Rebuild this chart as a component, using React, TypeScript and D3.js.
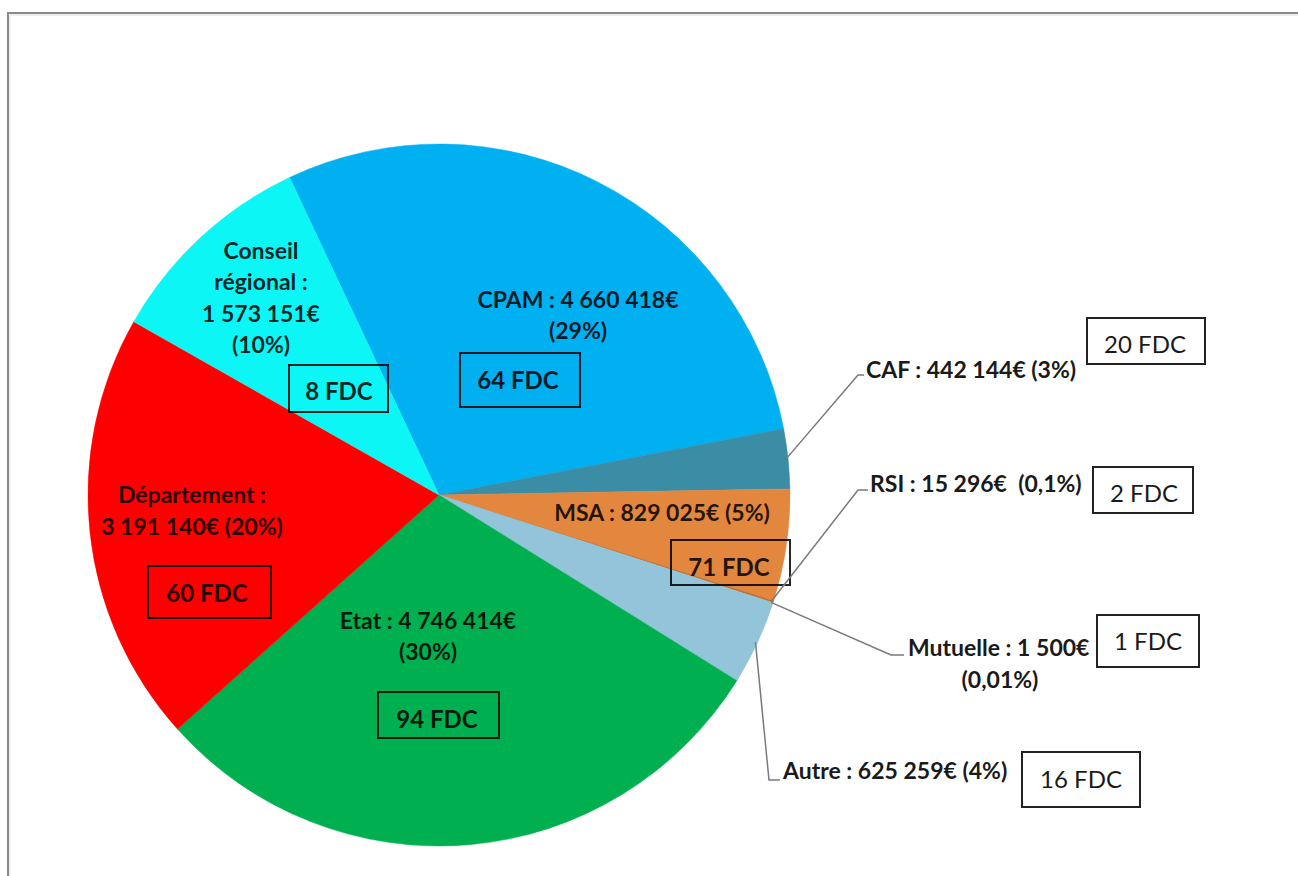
import React from "react";
import * as d3 from "d3";

// ---- Data ----
const categories = ["CPAM", "CAF", "MSA", "RSI", "Mutuelle", "Autre", "Etat", "Département", "Conseil régional"];
const amounts = [4660418, 442144, 829025, 15296, 1500, 625259, 4746414, 3191140, 1573151];
const percentLabels = ["29%", "3%", "5%", "0,1%", "0,01%", "4%", "30%", "20%", "10%"];
const fdcCounts = [64, 20, 71, 2, 1, 16, 94, 60, 8];
const colors = ["#00B0F0", "#3B8DA6", "#E3873F", "#C07030", "#9AC6DA", "#93C4D9", "#00B050", "#FF0000", "#0CF6F6"];

// ---- Layout (label placement, not data) ----
const W = 1298, H = 876;
const CX = 439, CY = 495, R = 351;
const START = (-25.2 * Math.PI) / 180;

const fr = d3.formatLocale({ decimal: ",", thousands: "\u00A0", grouping: [3], currency: ["", "€"] });
const fmt = (v: number) => fr.format(",")(v).replace(/\u00A0/g, " ") + "€";

type Lay = {
  inside: boolean;
  lines: (name: string, amt: string, pct: string) => string[];
  x: number; ys: number[]; anchor: "middle" | "start";
  extra?: { x: number; y: number };
  leader?: [number, number][];
  box: [number, number, number, number];
  bt: [number, number];
};

const layout: Record<string, Lay> = {
  "CPAM": { inside: true, lines: (n, a, p) => [`${n} : ${a}`, `(${p})`], x: 578, ys: [308, 339], anchor: "middle", box: [460, 353, 120, 54], bt: [518, 389] },
  "CAF": { inside: false, lines: (n, a, p) => [`${n} : ${a} (${p})`], x: 866, ys: [378], anchor: "start", leader: [[858, 375], [864, 375]], box: [1087, 318, 118, 46], bt: [1145, 353] },
  "MSA": { inside: true, lines: (n, a, p) => [`${n} : ${a} (${p})`], x: 662, ys: [521], anchor: "middle", box: [671, 540, 119, 45], bt: [729, 576] },
  "RSI": { inside: false, lines: (n, a, p) => [`${n} : ${a}\u00A0 (${p})`], x: 870, ys: [492], anchor: "start", leader: [[858, 490], [868, 490]], box: [1093, 467, 100, 46], bt: [1144, 502] },
  "Mutuelle": { inside: false, lines: (n, a, p) => [`${n} : ${a}`, `(${p})`], x: 908, ys: [656, 688], anchor: "start", extra: { x: 1000, y: 688 }, leader: [[891, 655], [904, 655]], box: [1097, 615, 102, 52], bt: [1148, 650] },
  "Autre": { inside: false, lines: (n, a, p) => [`${n} : ${a} (${p})`], x: 783, ys: [779], anchor: "start", leader: [[769, 780], [780, 780]], box: [1022, 752, 118, 55], bt: [1081, 788] },
  "Etat": { inside: true, lines: (n, a, p) => [`${n} : ${a}`, `(${p})`], x: 428, ys: [629, 660], anchor: "middle", box: [378, 692, 121, 46], bt: [437, 728] },
  "Département": { inside: true, lines: (n, a, p) => [`${n} :`, `${a} (${p})`], x: 192, ys: [503, 535], anchor: "middle", box: [148, 566, 123, 52], bt: [207, 602] },
  "Conseil régional": { inside: true, lines: (n, a, p) => ["Conseil", "régional :", a, `(${p})`], x: 261, ys: [259, 290, 322, 353], anchor: "middle", box: [289, 365, 99, 47], bt: [339, 400] },
};

const FONT = "Lato, 'Open Sans', sans-serif";

export default function App() {
  const pie = d3.pie<number>().sort(null).value((d) => d).startAngle(START).endAngle(START + 2 * Math.PI);
  const arcs = pie(amounts);
  const arc = d3.arc<d3.PieArcDatum<number>>().innerRadius(0).outerRadius(R);

  return (
    <svg width={W} height={H} style={{ position: "absolute", left: 0, top: 0, background: "#fff" }} fontFamily={FONT}>
      <rect x={0} y={0} width={W} height={H} fill="#fff" />
      <rect x={8} y={13} width={W + 40} height={H + 40} fill="none" stroke="#8a8a8a" strokeWidth={2} />
      <rect x={10} y={15} width={W + 40} height={H + 40} fill="none" stroke="#e0e0e0" strokeWidth={1} />
      <g transform={`translate(${CX},${CY})`}>
        {arcs.map((a, i) => (
          <path key={categories[i]} d={arc(a) || ""} fill={colors[i]} stroke={colors[i]} strokeWidth={0.5} />
        ))}
      </g>
      {arcs.map((a, i) => {
        const name = categories[i];
        const L = layout[name];
        const lines = L.lines(name, fmt(amounts[i]), percentLabels[i]);
        const ink = L.inside ? "rgba(0,0,0,0.85)" : "#1a1a1a";
        const [bx, by, bw, bh] = L.box;
        let leaderPath: string | null = null;
        if (L.leader) {
          const angle = (a.startAngle + a.endAngle) / 2;
          const sx = CX + Math.sin(angle) * (R - 2);
          const sy = CY - Math.cos(angle) * (R - 2);
          leaderPath = d3.line()([[sx, sy], ...L.leader]) || null;
        }
        return (
          <g key={name}>
            {leaderPath && <path d={leaderPath} fill="none" stroke="#7a7a7a" strokeWidth={1.5} />}
            {lines.map((t, j) => {
              const isExtra = L.extra && j === 1;
              return (
                <text
                  key={j}
                  x={isExtra ? L.extra!.x : L.x}
                  y={L.ys[j]}
                  textAnchor={isExtra ? "middle" : L.anchor}
                  fontSize={23}
                  fontWeight={700}
                  fill={ink}
                  style={{ whiteSpace: "pre" }}
                >
                  {t}
                </text>
              );
            })}
            <rect x={bx} y={by} width={bw} height={bh} fill={L.inside ? "none" : "#fff"} stroke={L.inside ? "rgba(0,0,0,0.85)" : "#222"} strokeWidth={2} />
            <text x={L.bt[0]} y={L.bt[1]} textAnchor="middle" fontSize={24} fontWeight={L.inside ? 700 : 400} fill={ink}>
              {`${fdcCounts[i]} FDC`}
            </text>
          </g>
        );
      })}
    </svg>
  );
}
